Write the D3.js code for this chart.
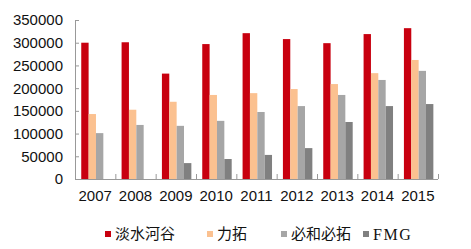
<!DOCTYPE html>
<html>
<head>
<meta charset="utf-8">
<script src="https://cdn.jsdelivr.net/npm/d3@7"></script>
<style>
  body { margin: 0; background: #fff; }
  svg { display: block; }
</style>
</head>
<body>
<div id="chart"></div>
<script>
// data
const years = ['2007', '2008', '2009', '2010', '2011', '2012', '2013', '2014', '2015'];
const seriesNames = ['淡水河谷', '力拓', '必和必拓', 'FMG'];
const vale = [300000, 301000, 232000, 297000, 321000, 308000, 299000, 319000, 332000];
const rioTinto = [143000, 152500, 170000, 185000, 189000, 198000, 209000, 233000, 262000];
const bhp = [101000, 119000, 117000, 128000, 147500, 160500, 185000, 218000, 238000];
const fmg = [0, 0, 35000, 44000, 53000, 68000, 125500, 160500, 165000];
const yTicks = [0, 50000, 100000, 150000, 200000, 250000, 300000, 350000];

const colors = ['#C8000F', '#FBC190', '#A6A6A6', '#808080'];
const allSeries = [vale, rioTinto, bhp, fmg];

const width = 471, height = 249;
const margin = { top: 20, right: 33, bottom: 70, left: 75 };
const plotW = width - margin.left - margin.right;
const plotH = height - margin.top - margin.bottom;

const data = years.map((y, i) => ({ year: y, values: allSeries.map(s => s[i]) }));

const svg = d3.select('#chart')
  .append('svg')
  .attr('width', width)
  .attr('height', height);

const g = svg.append('g')
  .attr('transform', 'translate(' + margin.left + ',' + margin.top + ')');

const x = d3.scaleBand().domain(years).range([0, plotW]).padding(0);
const y = d3.scaleLinear().domain([0, 350000]).range([plotH, 0]);

// inner band for the four bars of one year
const groupW = x.bandwidth() * 0.73;
const x1 = d3.scaleBand().domain(d3.range(4)).range([0, groupW]).padding(0);
const groupOffset = x.bandwidth() * 0.155;

const groups = g.selectAll('g.year')
  .data(data)
  .join('g')
  .attr('class', 'year')
  .attr('transform', d => 'translate(' + (x(d.year) + groupOffset) + ',0)');

groups.selectAll('rect')
  .data(d => d.values)
  .join('rect')
  .attr('x', (d, i) => x1(i))
  .attr('y', d => y(d))
  .attr('width', x1.bandwidth())
  .attr('height', d => plotH - y(d))
  .attr('fill', (d, i) => colors[i]);

// y axis
const yAxis = g.append('g')
  .call(d3.axisRight(y).tickValues(yTicks).tickSize(4).tickFormat(''));
yAxis.select('.domain').attr('stroke', '#999').attr('d', 'M0.5,0V' + plotH);
yAxis.selectAll('.tick line').attr('stroke', '#999');

g.selectAll('text.ylab')
  .data(yTicks)
  .join('text')
  .attr('class', 'ylab')
  .attr('x', -12)
  .attr('y', d => y(d))
  .attr('dy', '0.36em')
  .attr('text-anchor', 'end')
  .style('font-family', '"Liberation Sans", Arial, sans-serif')
  .style('font-size', '15px')
  .attr('fill', '#111')
  .text(d => d);

// x axis: ticks between categories, pointing up
const xAxis = g.append('g')
  .attr('transform', 'translate(0,' + plotH + ')');
xAxis.append('line')
  .attr('x1', 0).attr('x2', plotW)
  .attr('y1', 0.5).attr('y2', 0.5)
  .attr('stroke', '#999');
xAxis.selectAll('line.tk')
  .data(years)
  .join('line')
  .attr('class', 'tk')
  .attr('x1', d => x(d) + x.bandwidth() + 0.5)
  .attr('x2', d => x(d) + x.bandwidth() + 0.5)
  .attr('y1', 0).attr('y2', -5)
  .attr('stroke', '#999');
xAxis.selectAll('text')
  .data(years)
  .join('text')
  .attr('x', d => x(d) + x.bandwidth() / 2)
  .attr('y', 22)
  .attr('text-anchor', 'middle')
  .style('font-family', '"Liberation Sans", Arial, sans-serif')
  .style('font-size', '15px')
  .attr('fill', '#111')
  .text(d => d);

// legend
const legendX = [105, 207, 281, 363];
const legend = svg.append('g');
const items = legend.selectAll('g')
  .data(seriesNames)
  .join('g')
  .attr('transform', (d, i) => 'translate(' + legendX[i] + ',231)');
items.append('rect')
  .attr('width', 6)
  .attr('height', 6)
  .attr('fill', (d, i) => colors[i]);
items.append('text')
  .attr('x', 10)
  .attr('y', 3)
  .attr('dy', '0.36em')
  .style('font-family', d => d === 'FMG'
    ? '"Liberation Serif", serif'
    : '"Noto Sans CJK SC", sans-serif')
  .style('font-size', d => d === 'FMG' ? '16px' : '15px')
  .style('letter-spacing', d => d === 'FMG' ? '1.5px' : null)
  .attr('fill', '#111')
  .text(d => d);
</script>
</body>
</html>
